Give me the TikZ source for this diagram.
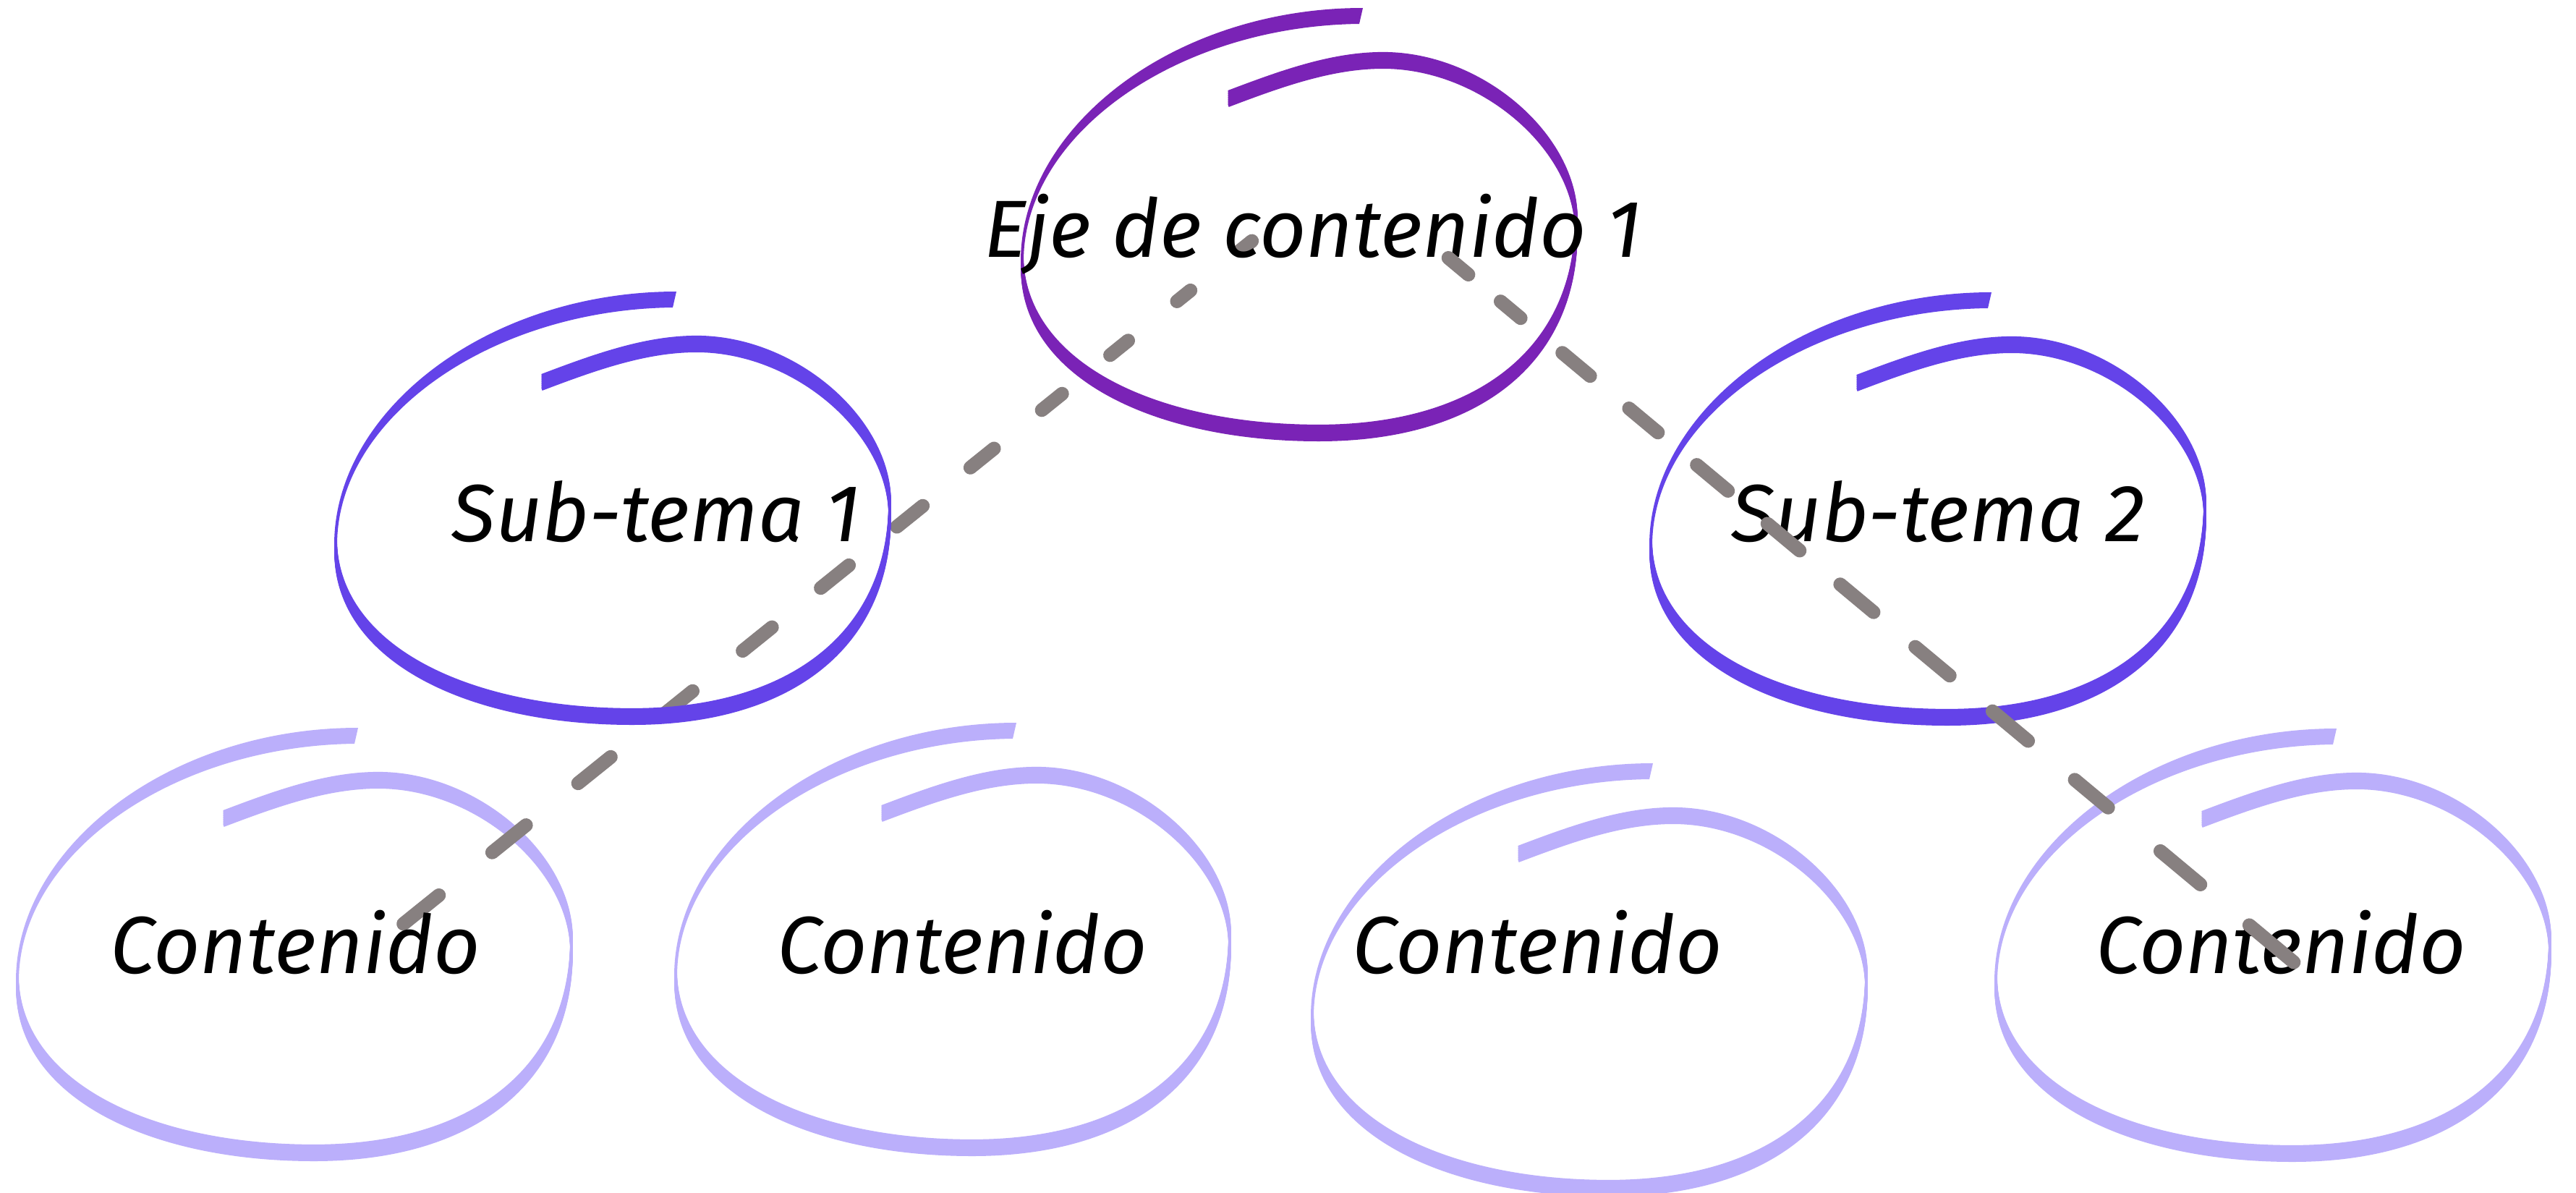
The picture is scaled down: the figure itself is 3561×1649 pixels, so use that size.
\documentclass[tikz,border=0pt]{standalone}
\usepackage{fontspec}
\newfontfamily\hand{Fira Sans}
\definecolor{ejec}{HTML}{7A23B6}
\definecolor{subc}{HTML}{6443E9}
\definecolor{conc}{HTML}{BBAFFB}
\definecolor{linkgray}{HTML}{878080}
\tikzset{
  pics/loopmark/.style={code={
    % outer arc: tapering brush stroke from the start to the left side
    \fill[#1] (1,0) .. controls (-259,0) and (-472,164) .. (-472,350)
      -- (-468,350) .. controls (-468,174) and (-255,25) .. (-4,22) -- cycle;
    % rest of the loop: flat vertical nib
    \foreach \d in {-10.2,-8.7,...,10.3} {
      \draw[#1, line width=3.6pt, line cap=butt, line join=round, yshift=\d pt]
        (-470,350) .. controls (-470,500) and (-286,587) .. (-60,587)
        .. controls (160,587) and (296,480) .. (296,300)
        .. controls (296,185) and (165,72) .. (29,72)
        .. controls (-41,72) and (-110,96.5) .. (-185,125);
    }
  }},
  txt/.style={font=\hand\itshape\fontsize{112}{130}\selectfont, anchor=base, inner sep=0pt, text=black},
  conn/.style={line width=19pt, line cap=round, draw=linkgray}
}
\begin{document}
\begin{tikzpicture}[x=1pt,y=-1pt]
\useasboundingbox (0,0) rectangle (3561,1649);
\fill[white] (0,0) rectangle (3561,1649);
% content loops
\pic (lc1) at (494,1006) {loopmark=conc};
\pic (lc2) at (1404,999) {loopmark=conc};
\pic (lc3) at (2284,1055) {loopmark=conc};
\pic (lc4) at (3229,1007) {loopmark=conc};
% connector end points
\coordinate (aS) at (1730.6,333.1);
\coordinate (aE) at (555.5,1278.7);
\coordinate (bS) at (2002.2,356.5);
\coordinate (bE) at (3172.7,1331.6);
% connector A (under text and sub-topic loop)
\draw[conn, dash pattern=on 22pt off 87pt on 24pt off 86.6pt on 32pt off 85.2pt on 36pt off 84.8pt on 42pt off 84.4pt on 46pt off 85pt on 50pt off 86.6pt on 52pt off 88.7pt on 55pt off 90.3pt on 58pt off 92.4pt on 60pt off 94.5pt on 63pt off 300pt] (aS) -- (aE);
% subtopic and axis loops
\pic (ls1) at (934,403) {loopmark=subc};
\pic (ls2) at (2752,404) {loopmark=subc};
\pic (le) at (1883,11) {loopmark=ejec};
% texts
\node[txt] (eje) at (1815,355) {Eje de contenido 1};
\node[txt] (st1) at (907,748) {Sub-tema 1};
\node[txt] (st2) at (2679,748) {Sub-tema 2};
\node[txt] (c1) at (408,1345) {Contenido};
\node[txt] (c2) at (1330,1345) {Contenido};
\node[txt] (c3) at (2125,1345) {Contenido};
\node[txt] (c4) at (3153,1345) {Contenido};
% connector B (over text)
\draw[conn, dash pattern=on 36pt off 58pt on 36pt off 75pt on 50pt off 70pt on 52pt off 70pt on 56pt off 71pt on 58pt off 73pt on 60pt off 75pt on 62pt off 77pt on 64pt off 84pt on 60pt off 94pt on 72pt off 88pt on 80pt off 300pt] (bS) -- (bE);
\end{tikzpicture}
\end{document}
